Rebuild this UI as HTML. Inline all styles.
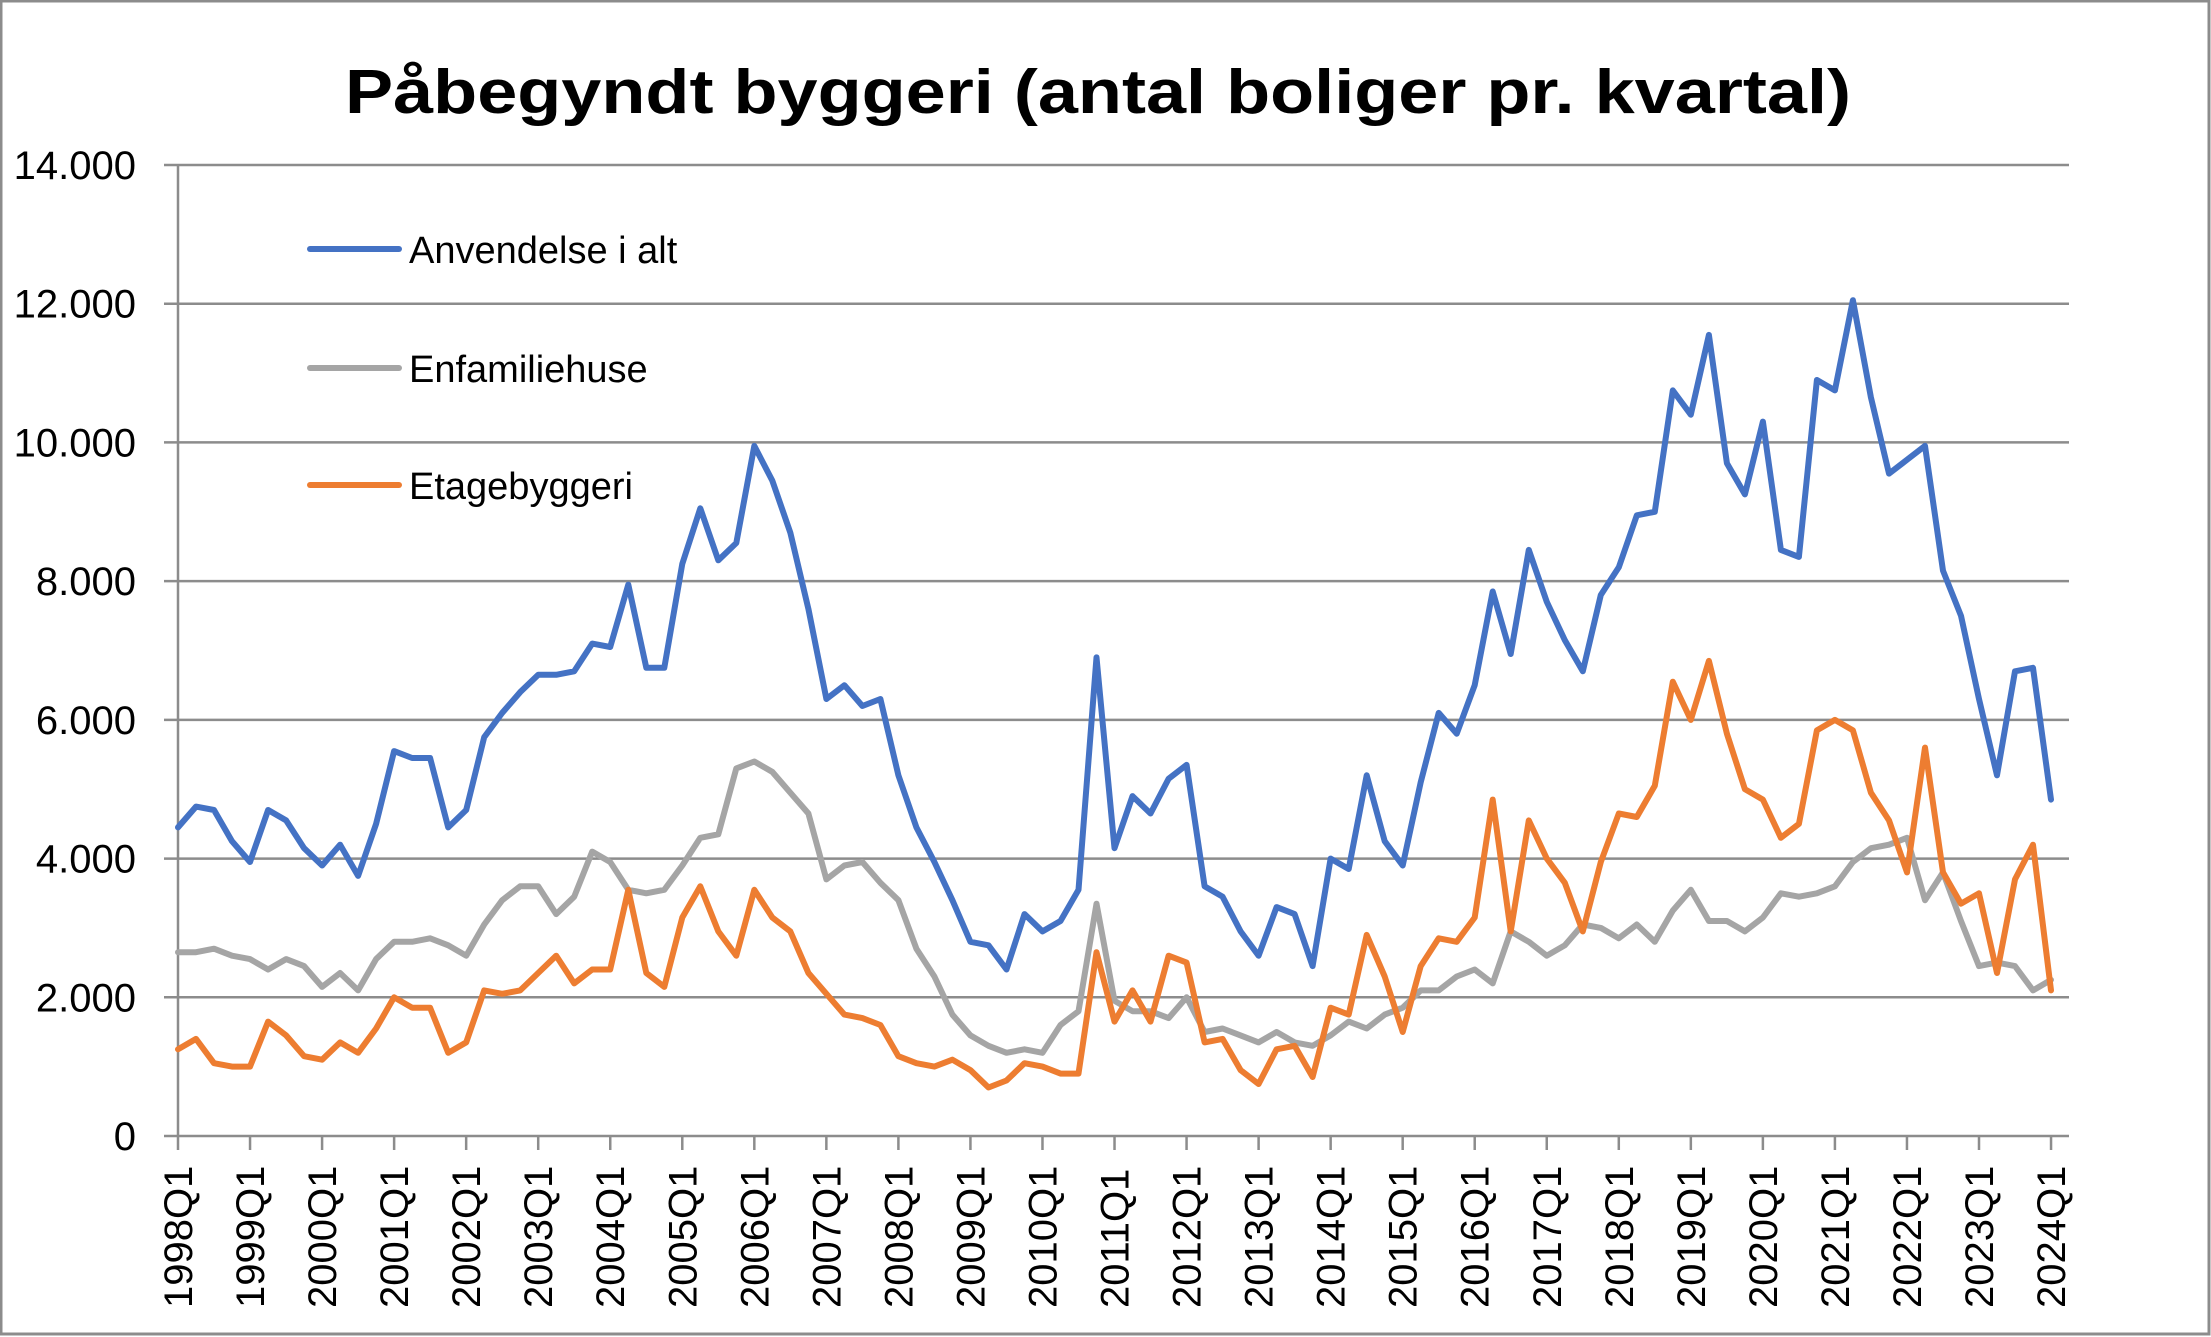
<!DOCTYPE html>
<html><head><meta charset="utf-8"><style>
html,body{margin:0;padding:0;background:#fff}
svg{display:block}
text{font-family:"Liberation Sans",sans-serif}
</style></head><body>
<svg id="s" width="2211" height="1337" viewBox="0 0 2211 1337" xmlns="http://www.w3.org/2000/svg">
<rect x="1" y="1" width="2208" height="1333" fill="#fff" stroke="#8c8c8c" stroke-width="3"/>
<text x="345" y="113" font-size="62" font-weight="bold" textLength="1506" lengthAdjust="spacingAndGlyphs">Påbegyndt byggeri (antal boliger pr. kvartal)</text>
<g id="grid" stroke="#8c8c8c" stroke-width="2.5"></g>
<g id="ylab" font-size="40" text-anchor="end"></g>
<g id="xlab" font-size="40"></g>
<g id="lines" fill="none" stroke-width="6" stroke-linejoin="round" stroke-linecap="round"></g>
<line x1="310" y1="249" x2="399" y2="249" stroke="#4472C4" stroke-width="6" stroke-linecap="round"/>
<line x1="310" y1="368" x2="399" y2="368" stroke="#A5A5A5" stroke-width="6" stroke-linecap="round"/>
<line x1="310" y1="485" x2="399" y2="485" stroke="#ED7D31" stroke-width="6" stroke-linecap="round"/>
<text x="409" y="263" font-size="38">Anvendelse i alt</text>
<text x="409" y="382" font-size="38">Enfamiliehuse</text>
<text x="409" y="499" font-size="38">Etagebyggeri</text>
</svg>
<script>
var NS="http://www.w3.org/2000/svg";
function el(t,a,p,txt){var e=document.createElementNS(NS,t);for(var k in a)e.setAttribute(k,a[k]);if(txt)e.textContent=txt;document.getElementById(p).appendChild(e);return e;}
var y0=1136, per=(1136-165)/14, x0=178, dx=18.01;
for(var v=0;v<=14;v+=2){var y=y0-v*per;
 if(v>0) el("line",{x1:164,y1:y,x2:2069,y2:y},"grid");
 el("text",{x:136,y:y+14},"ylab",v==0?"0":v+".000");}
el("line",{x1:164,y1:y0,x2:2069,y2:y0},"grid");
el("line",{x1:178,y1:165,x2:178,y2:y0},"grid");
for(var yr=0;yr<=26;yr++){var x=x0+yr*4*dx;
 el("line",{x1:x,y1:y0,x2:x,y2:y0+14},"grid");
 el("text",{x:0,y:0,transform:"translate("+(x+14)+",1308) rotate(-90)"},"xlab",(1998+yr)+"Q1");}
var blue=[4.45,4.75,4.7,4.25,3.95,4.7,4.55,4.15,3.9,4.2,3.75,4.5,5.55,5.45,5.45,4.45,4.7,5.75,6.1,6.4,6.65,6.65,6.7,7.1,7.05,7.95,6.75,6.75,8.25,9.05,8.3,8.55,9.95,9.45,8.7,7.6,6.3,6.5,6.2,6.3,5.2,4.45,3.95,3.4,2.8,2.75,2.4,3.2,2.95,3.1,3.55,6.9,4.15,4.9,4.65,5.15,5.35,3.6,3.45,2.95,2.6,3.3,3.2,2.45,4.0,3.85,5.2,4.25,3.9,5.1,6.1,5.8,6.5,7.85,6.95,8.45,7.7,7.15,6.7,7.8,8.2,8.95,9.0,10.75,10.4,11.55,9.7,9.25,10.3,8.45,8.35,10.9,10.75,12.05,10.65,9.55,9.75,9.95,8.15,7.5,6.3,5.2,6.7,6.75,4.85];
var gray=[2.65,2.65,2.7,2.6,2.55,2.4,2.55,2.45,2.15,2.35,2.1,2.55,2.8,2.8,2.85,2.75,2.6,3.05,3.4,3.6,3.6,3.2,3.45,4.1,3.95,3.55,3.5,3.55,3.9,4.3,4.35,5.3,5.4,5.25,4.95,4.65,3.7,3.9,3.95,3.65,3.4,2.7,2.3,1.75,1.45,1.3,1.2,1.25,1.2,1.6,1.8,3.35,1.95,1.8,1.8,1.7,2.0,1.5,1.55,1.45,1.35,1.5,1.35,1.3,1.45,1.65,1.55,1.75,1.85,2.1,2.1,2.3,2.4,2.2,2.95,2.8,2.6,2.75,3.05,3.0,2.85,3.05,2.8,3.25,3.55,3.1,3.1,2.95,3.15,3.5,3.45,3.5,3.6,3.95,4.15,4.2,4.3,3.4,3.8,3.1,2.45,2.5,2.45,2.1,2.25];
var orange=[1.25,1.4,1.05,1.0,1.0,1.65,1.45,1.15,1.1,1.35,1.2,1.55,2.0,1.85,1.85,1.2,1.35,2.1,2.05,2.1,2.35,2.6,2.2,2.4,2.4,3.55,2.35,2.15,3.15,3.6,2.95,2.6,3.55,3.15,2.95,2.35,2.05,1.75,1.7,1.6,1.15,1.05,1.0,1.1,0.95,0.7,0.8,1.05,1.0,0.9,0.9,2.65,1.65,2.1,1.65,2.6,2.5,1.35,1.4,0.95,0.75,1.25,1.3,0.85,1.85,1.75,2.9,2.3,1.5,2.45,2.85,2.8,3.15,4.85,2.95,4.55,4.0,3.65,2.95,3.95,4.65,4.6,5.05,6.55,6.0,6.85,5.8,5.0,4.85,4.3,4.5,5.85,6.0,5.85,4.95,4.55,3.8,5.6,3.8,3.35,3.5,2.35,3.7,4.2,2.1];
function pts(a){return a.map(function(v,i){return (x0+i*dx).toFixed(1)+","+(y0-v*per).toFixed(1);}).join(" ");}
el("polyline",{points:pts(gray),stroke:"#A5A5A5"},"lines");
el("polyline",{points:pts(orange),stroke:"#ED7D31"},"lines");
el("polyline",{points:pts(blue),stroke:"#4472C4"},"lines");
</script>
</body></html>
